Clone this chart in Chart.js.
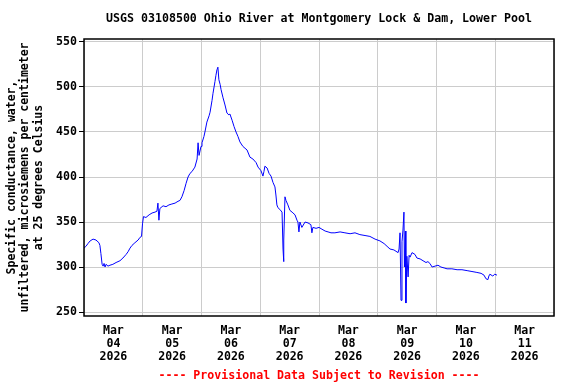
<!DOCTYPE html>
<html>
<head>
<meta charset="utf-8">
<script src="https://cdn.jsdelivr.net/npm/chart.js@4/dist/chart.umd.min.js"></script>
<style>
  body { margin: 0; background: #fff; }
  canvas { display: block; }
</style>
</head>
<body>
<canvas id="grafico" width="576" height="384"></canvas>
<script>
// horas desde Mar 04 00:00
const horas = [
  0, 0.8, 1.6, 2.5, 3.7, 4.9, 6.1, 6.5, 6.9, 7.4, 7.8, 8.2, 8.6, 9.0, 9.8, 10.6, 11.8, 13.1, 14.7, 15.9,
  17.2, 18.0, 18.8, 19.6, 20.8, 22.1, 22.9, 23.5, 23.9, 24.3, 25.3, 26.6, 27.8, 29.0, 29.8, 30.2, 30.6, 31.0,
  32.3, 33.5, 34.7, 35.9, 37.2, 38.4, 39.2, 40.0, 40.9, 41.7, 42.5, 43.3, 44.1, 45.3, 46.2, 46.6, 47.0,
  47.8, 48.2, 49.0, 49.4, 50.2, 51.1, 51.5, 52.3, 52.7, 53.5, 53.9, 54.3, 54.7, 55.1, 55.6, 56.0, 56.8,
  57.6, 58.4, 59.2, 59.6, 60.5, 61.3, 62.1, 62.9, 63.7, 64.9, 66.6, 67.8, 69.0, 70.3, 71.1, 72.3, 73.1,
  73.5, 73.9, 74.8, 75.6, 76.4, 77.2, 78.0, 78.4, 78.8, 79.2, 80.0, 80.9, 81.3, 81.5, 81.7, 82.1, 82.5,
  83.3, 84.1, 85.0, 86.2, 87.0, 87.4, 87.8, 88.2, 89.0, 90.3, 91.5, 92.7, 93.1, 93.5, 94.8, 96.0, 97.2,
  98.5, 99.7, 100.9, 102.5, 104.6, 106.6, 108.7, 110.7, 112.7, 114.8, 116.8, 118.9, 120.9, 122.6, 123.8,
  125.0, 126.6, 128.3, 128.7, 129.1, 129.5, 129.9, 130.3, 130.7, 130.9, 131.3, 131.5, 131.9, 132.4, 132.8,
  133.2, 134.0, 135.2, 136.0, 137.3, 138.5, 139.7, 140.5, 141.3, 142.2, 143.4, 144.6, 145.8, 147.1, 148.3,
  150.3, 152.4, 154.4, 156.5, 158.5, 160.5, 162.2, 163.4, 164.2, 165.0, 165.4, 165.8, 167.0, 167.8, 168.7
];
const conductancia = [
  321, 323, 326, 329, 331, 330, 327, 324, 315, 303, 301, 304, 300, 303, 301, 302, 303, 305, 307, 310,
  314, 317, 321, 324, 327, 330, 333, 334, 348, 356, 355, 358, 360, 361, 362, 371, 352, 365,
  368, 367, 369, 370, 371, 373, 374, 378, 385, 393, 400, 404, 406, 411, 420, 438, 424,
  434, 438, 445, 450, 461, 468, 472, 485, 493, 506, 513, 519, 522, 508, 503, 497, 488,
  480, 471, 469, 470, 463, 456, 450, 445, 439, 434, 430, 422, 420, 416, 411, 407, 401,
  406, 412, 410, 404, 401, 394, 389, 380, 369, 366, 364, 361, 320, 306, 330, 378, 374,
  369, 363, 361, 358, 352, 350, 339, 350, 344, 350, 349, 347, 338, 344, 343, 344, 342,
  340, 339, 338, 338, 339, 338, 337, 338, 336, 335, 334, 331, 329, 326, 323,
  320, 319, 316, 320, 338, 263, 328, 341, 361, 300, 340, 260, 312, 289, 313,
  311, 316, 314, 310, 309, 307, 305, 306, 304, 300, 301, 302, 300, 299, 298,
  298, 297, 297, 296, 295, 294, 293, 291, 287, 286, 290, 292, 290, 292, 291
];

const yTicks = [250, 300, 350, 400, 450, 500, 550];
const gridHoras = [0, 24, 48, 72, 96, 120, 144, 168, 192];
const etiquetaHoras = [12, 36, 60, 84, 108, 132, 156, 180];
const meses = ['Mar', 'Mar', 'Mar', 'Mar', 'Mar', 'Mar', 'Mar', 'Mar'];
const dias = ['04', '05', '06', '07', '08', '09', '10', '11'];
const anios = ['2026', '2026', '2026', '2026', '2026', '2026', '2026', '2026'];

const titulo = 'USGS 03108500 Ohio River at Montgomery Lock & Dam, Lower Pool';
const tituloY = ['Specific conductance, water,', 'unfiltered, microsiemens per centimeter', 'at 25 degrees Celsius'];
const pie = '---- Provisional Data Subject to Revision ----';

Chart.defaults.font.family = "'DejaVu Sans Mono', monospace";
Chart.defaults.font.weight = 'bold';
Chart.defaults.font.size = 11.6;
Chart.defaults.color = '#000';

const fuente = { family: "'DejaVu Sans Mono', monospace", weight: 'bold', size: 11.6, lineHeight: '13px' };

// marco negro alrededor del area de datos
const marco = {
    id: 'marco',
    afterDraw(chart) {
        const a = chart.chartArea;
        const ctx = chart.ctx;
        ctx.save();
        ctx.strokeStyle = '#000';
        ctx.lineWidth = 1.5;
        ctx.strokeRect(a.left, a.top, a.right - a.left, a.bottom - a.top);
        ctx.restore();
    }
};

const ctx = document.getElementById('grafico').getContext('2d');
new Chart(ctx, {
    type: 'line',
    data: {
        datasets: [{
            data: horas.map((h, i) => ({ x: h, y: conductancia[i] })),
            borderColor: '#0000ff',
            borderWidth: 1,
            pointRadius: 0,
            fill: false,
            tension: 0
        }]
    },
    options: {
        responsive: false,
        animation: false,
        layout: { padding: { left: 0, right: 22, top: 0, bottom: 0 } },
        plugins: {
            legend: { display: false },
            tooltip: { enabled: false },
            title: {
                display: true,
                text: titulo,
                fullSize: false,
                font: fuente,
                color: '#000',
                padding: { top: 12.5, bottom: 13.5 }
            },
            subtitle: {
                display: true,
                text: pie,
                position: 'bottom',
                fullSize: false,
                font: fuente,
                color: '#ff0000',
                padding: { top: 7, bottom: 1.5 }
            }
        },
        scales: {
            x: {
                type: 'linear',
                min: 0,
                max: 192,
                afterBuildTicks: (axis) => { axis.ticks = gridHoras.map(v => ({ value: v })); },
                afterFit: (axis) => { axis.height = 0; },
                ticks: { display: false },
                grid: { color: '#cccccc', drawTicks: false },
                border: { display: false }
            },
            x2: {
                type: 'linear',
                position: 'bottom',
                min: 0,
                max: 192,
                afterBuildTicks: (axis) => { axis.ticks = etiquetaHoras.map(v => ({ value: v })); },
                afterFit: (axis) => { axis.height = 46.5; },
                ticks: {
                    autoSkip: false,
                    maxRotation: 0,
                    padding: 8,
                    font: fuente,
                    callback: (value) => {
                        const i = etiquetaHoras.indexOf(value);
                        return [meses[i], dias[i], anios[i]];
                    }
                },
                grid: { display: false, drawTicks: false },
                border: { display: false }
            },
            y: {
                min: 245.6,
                max: 553.3,
                afterBuildTicks: (axis) => { axis.ticks = yTicks.map(v => ({ value: v })); },
                afterFit: (axis) => { axis.width = 84; },
                ticks: { padding: 2, font: fuente },
                grid: { color: '#cccccc', tickColor: '#000', tickLength: 5 },
                border: { display: false },
                title: {
                    display: true,
                    text: tituloY,
                    font: { family: "'DejaVu Sans Mono', monospace", weight: 'bold', size: 11.5, lineHeight: '13.5px' },
                    padding: { top: 5, bottom: 0 }
                }
            }
        }
    },
    plugins: [marco]
});
</script>
</body>
</html>
